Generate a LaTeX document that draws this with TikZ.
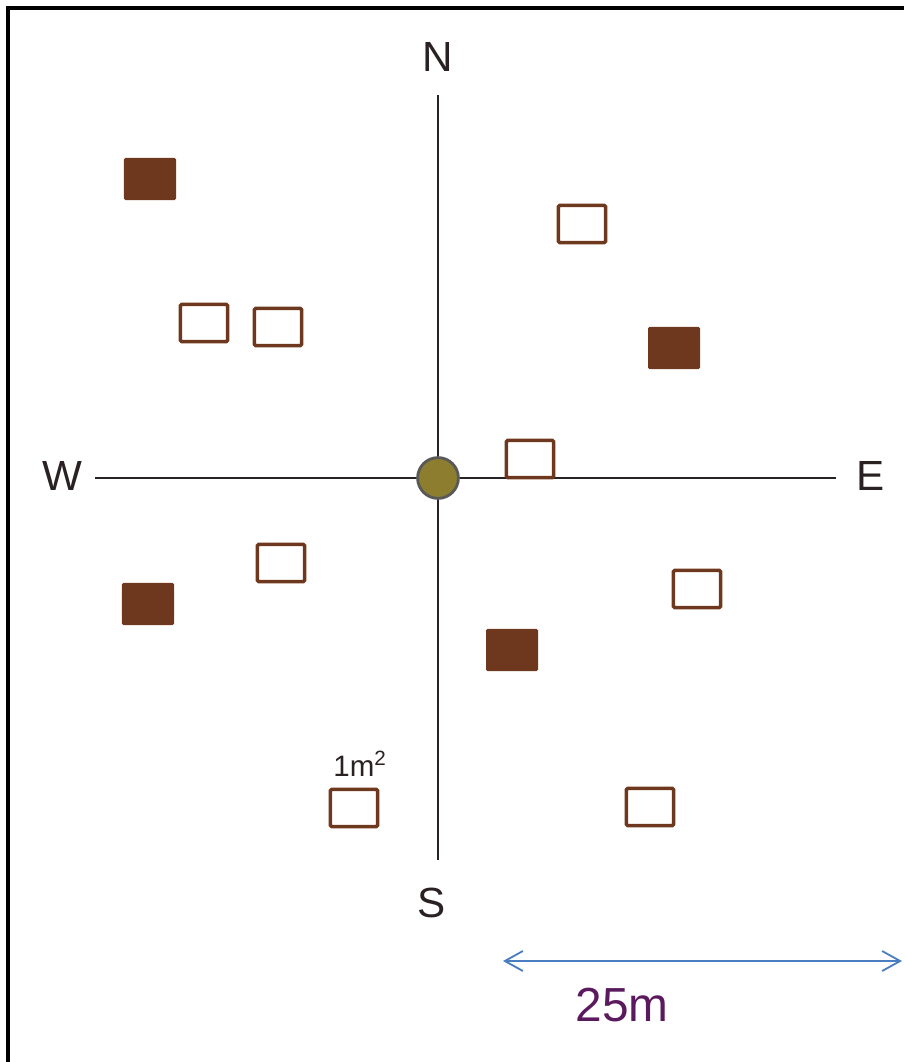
\documentclass[tikz,border=0pt]{standalone}
\usepackage{fontspec}
\setmainfont{Liberation Sans}
\usetikzlibrary{arrows.meta, positioning}
\definecolor{PlotBrown}{HTML}{6E381E}
\definecolor{AxisDark}{HTML}{2A2222}
\definecolor{TreeOlive}{HTML}{8C7E2E}
\definecolor{ScaleBlue}{HTML}{4A7EC0}
\definecolor{ScalePurple}{HTML}{5C1A5E}

\begin{document}
\begin{tikzpicture}[x=0.025cm, y=-0.025cm,
        plotfill/.style={rectangle, fill=PlotBrown, rounded corners=1pt, minimum width=1.3cm, minimum height=1.05cm, inner sep=0pt},
        plotopen/.style={rectangle, draw=PlotBrown, line width=2.5pt, rounded corners=1pt, minimum width=1.18cm, minimum height=0.93cm, inner sep=0pt},
        compass/.style={font=\fontsize{30}{30}\selectfont, text=AxisDark}]
        \useasboundingbox (0,0) rectangle (904,1062);

        % Frame (only left and top edges show)
        \draw[line width=2.2pt, black] (8,1062) -- (8,8) -- (904,8);

        % Axis ends
        \coordinate (nEnd) at (438,95);
        \coordinate (sEnd) at (438,860);
        \coordinate (wEnd) at (95,478);
        \coordinate (eEnd) at (836,478);

        % Compass labels
        \node[compass] (n) at (438,57) {N};
        \node[compass] (s) at (432,903) {S};
        \node[compass] (w) at (62,476) {W};
        \node[compass] (e) at (871,476) {E};

        % Axes
        \draw[AxisDark, line width=1.4pt] (nEnd) -- (sEnd);
        \draw[AxisDark, line width=1.4pt] (wEnd) -- (eEnd);

        % Centre tree
        \node[circle, fill=TreeOlive, draw=black!65, line width=2pt, minimum size=1.02cm, inner sep=0pt] (tree) at (438,478) {};

        % Filled plots
        \node[plotfill] (f1) at (150,179) {};
        \node[plotfill] (f2) at (674,348) {};
        \node[plotfill] (f3) at (148,604) {};
        \node[plotfill] (f4) at (512,650) {};

        % Open plots
        \node[plotopen] (p1) at (582,224) {};
        \node[plotopen] (p2) at (204,323) {};
        \node[plotopen] (p3) at (278,327) {};
        \node[plotopen] (p4) at (530,459) {};
        \node[plotopen] (p5) at (281,563) {};
        \node[plotopen] (p6) at (697,589) {};
        \node[plotopen] (p7) at (354,808) {};
        \node[plotopen] (p8) at (650,807) {};

        % Plot size label
        \node[font=\fontsize{21}{21}\selectfont, text=AxisDark] (area) at (360,764) {1m\textsuperscript{2}};

        % Scale bar
        \coordinate (sL) at (503,961);
        \coordinate (sR) at (902,961);
        \draw[{Straight Barb[length=4.5mm, width=5mm]}-{Straight Barb[length=4.5mm, width=5mm]}, ScaleBlue, line width=1.3pt] (sL) -- (sR);
        \node[font=\fontsize{34}{34}\selectfont, text=ScalePurple] (scale) at (622,1005) {25m};
    \end{tikzpicture}
\end{document}
